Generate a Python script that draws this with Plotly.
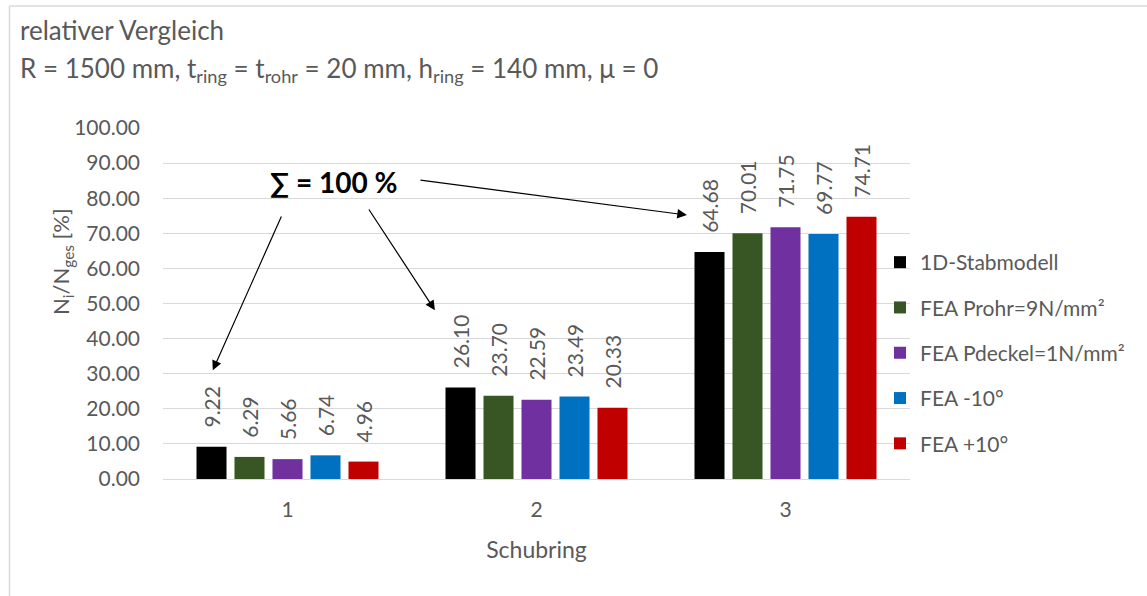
import plotly.graph_objects as go

# Schubring categories and relative normal-force shares N_i/N_ges in %
categories = ["1", "2", "3"]
series_names = [
    "1D-Stabmodell",
    "FEA Prohr=9N/mm²",
    "FEA Pdeckel=1N/mm²",
    "FEA -10°",
    "FEA +10°",
]
stabmodell = [9.22, 26.10, 64.68]
fea_prohr = [6.29, 23.70, 70.01]
fea_pdeckel = [5.66, 22.59, 71.75]
fea_minus10 = [6.74, 23.49, 69.77]
fea_plus10 = [4.96, 20.33, 74.71]
y_ticks = [0, 10, 20, 30, 40, 50, 60, 70, 80, 90, 100]

series_values = [stabmodell, fea_prohr, fea_pdeckel, fea_minus10, fea_plus10]
colors = ["#000000", "#375623", "#7030A0", "#0070C0", "#C00000"]

FONT = "Lato"
GREY = "#595959"
PAD = "\u00a0\u00a0\u00a0"   # keeps the rotated value labels clear of the bar tops

W, H = 1147, 596
L, R, T, B = 163, 237, 128, 117   # plot-area margins in px
PW, PH = W - L - R, H - T - B


def px_x(px):
    return (px - L) / PW


def px_y(py):
    return (H - B - py) / PH


fig = go.Figure()
for i, (name, vals, col) in enumerate(zip(series_names, series_values, colors)):
    fig.add_trace(go.Bar(
        x=categories,
        y=vals,
        name=name,
        legendgroup=f"g{i}",
        marker=dict(color=col, line=dict(width=0)),
        text=[f"{PAD}{v:.2f}" for v in vals],
        textposition="outside",
        textangle=-90,
        constraintext="none",
        textfont=dict(family=FONT, size=21, color=GREY),
        cliponaxis=False,
    ))

# Arrows from the sum label to each group (tail / tip in data coordinates)
arrows = [
    ((-0.022, 75.2), (-0.30, 31.0)),
    ((0.323, 77.2), (0.592, 48.1)),
    ((0.528, 85.2), (1.604, 75.2)),
]
annotations = []
for (tx, ty), (hx, hy) in arrows:
    annotations.append(dict(
        x=hx, y=hy, ax=tx, ay=ty, xref="x", yref="y", axref="x", ayref="y",
        text="", showarrow=True, arrowhead=2, arrowsize=1.6, arrowwidth=1.2,
        arrowcolor="#000000",
    ))
annotations.append(dict(
    x=0.185, y=84.6, xref="x", yref="y", text="<b>∑ = 100 %</b>",
    showarrow=False, font=dict(family=FONT, size=28, color="#000000"),
    xanchor="center", yanchor="middle",
))

# Chart title lines
annotations.append(dict(
    x=px_x(18), y=px_y(30), xref="paper", yref="paper",
    text="relativer Vergleich", showarrow=False, xanchor="left", yanchor="middle",
    font=dict(family=FONT, size=26, color=GREY),
))
annotations.append(dict(
    x=px_x(18), y=px_y(69), xref="paper", yref="paper",
    text="R = 1500 mm, t<sub>ring</sub> = t<sub>rohr</sub> = 20 mm, "
         "h<sub>ring</sub> = 140 mm, μ = 0",
    showarrow=False, xanchor="left", yanchor="middle",
    font=dict(family=FONT, size=26, color=GREY),
))

# Value-axis title
annotations.append(dict(
    x=px_x(62), y=px_y(262), xref="paper", yref="paper",
    text="N<sub>i</sub>/N<sub>ges</sub> [%]", showarrow=False,
    textangle=-90, xanchor="center", yanchor="middle",
    font=dict(family=FONT, size=22, color=GREY),
))

# Chart border (top and left edges)
shapes = [
    dict(type="line", xref="paper", yref="paper",
         x0=px_x(9.5), x1=px_x(W + 5), y0=px_y(6), y1=px_y(6),
         line=dict(color="#D9D9D9", width=1.5)),
    dict(type="line", xref="paper", yref="paper",
         x0=px_x(9.5), x1=px_x(9.5), y0=px_y(6), y1=px_y(H + 5),
         line=dict(color="#D9D9D9", width=1.5)),
]

fig.update_layout(
    width=W, height=H,
    margin=dict(l=L, r=R, t=T, b=B, autoexpand=False),
    paper_bgcolor="white", plot_bgcolor="white",
    barmode="group", bargap=0.237, bargroupgap=0.21,
    font=dict(family=FONT, color=GREY),
    showlegend=True,
    legend=dict(
        x=px_x(880), y=px_y(242), xanchor="left", yanchor="top",
        traceorder="grouped", tracegroupgap=15,
        font=dict(family=FONT, size=21, color=GREY),
        bgcolor="rgba(0,0,0,0)", itemclick=False,
    ),
    xaxis=dict(
        type="category", showgrid=False, zeroline=False, showline=False,
        ticks="", tickfont=dict(family=FONT, size=21, color=GREY),
        ticklabelstandoff=16,
        title=dict(text="Schubring", font=dict(family=FONT, size=23, color=GREY),
                   standoff=21),
    ),
    yaxis=dict(
        range=[0, 100], tickvals=y_ticks, tickformat=".2f",
        showgrid=True, gridcolor="#D9D9D9", gridwidth=1.3,
        zeroline=True, zerolinecolor="#D9D9D9", zerolinewidth=1.3,
        showline=False, ticks="",
        tickfont=dict(family=FONT, size=21, color=GREY),
        ticklabelstandoff=22,
    ),
    annotations=annotations,
    shapes=shapes,
)

fig.write_html("out.html")
